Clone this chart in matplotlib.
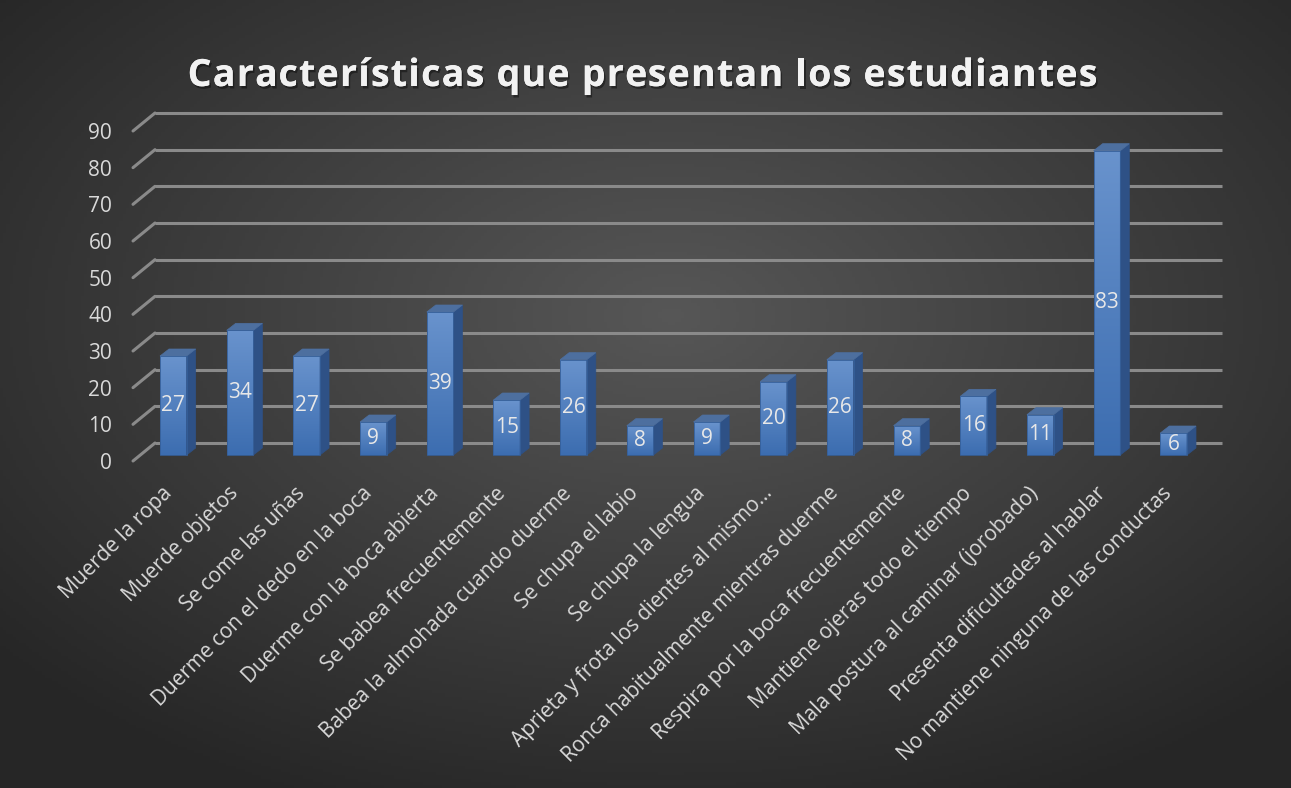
import numpy as np
import matplotlib
matplotlib.use("Agg")
import matplotlib.pyplot as plt
import matplotlib.patheffects as pe
from matplotlib.patches import Polygon, ConnectionPatch, Rectangle
from matplotlib.transforms import ScaledTranslation, IdentityTransform
from matplotlib.font_manager import FontProperties

plt.rcParams["font.family"] = ["Open Sans", "DejaVu Sans"]

TITLE = "Características que presentan los estudiantes"
categories = [
    "Muerde la ropa",
    "Muerde objetos",
    "Se come las uñas",
    "Duerme con el dedo en la boca",
    "Duerme con la boca abierta",
    "Se babea frecuentemente",
    "Babea la almohada cuando duerme",
    "Se chupa el labio",
    "Se chupa la lengua",
    "Aprieta y frota los dientes al mismo…",
    "Ronca habitualmente mientras duerme",
    "Respira por la boca frecuentemente",
    "Mantiene ojeras todo el tiempo",
    "Mala postura al caminar (jorobado)",
    "Presenta dificultades al hablar",
    "No mantiene ninguna de las conductas",
]
counts = [27, 34, 27, 9, 39, 15, 26, 8, 9, 20, 26, 8, 16, 11, 83, 6]
y_ticks = list(range(0, 100, 10))

W, H, DPI = 1291, 788, 100
fig = plt.figure(figsize=(W / DPI, H / DPI), dpi=DPI)

# dark radial background
bg = fig.add_axes([0, 0, 1, 1])
gx, gy = np.meshgrid(np.linspace(0, 1, 400), np.linspace(0, 1, 250))
r = np.sqrt(((gx - 0.52) / 0.75) ** 2 + ((gy - 0.6) / 0.75) ** 2)
shade = np.clip(0.34 - 0.21 * r, 0.15, 0.34)
bg.imshow(np.dstack([shade] * 3), extent=[0, 1, 0, 1], aspect="auto", origin="lower")
bg.set_axis_off()

# front plane of the plot area
ax = fig.add_axes([133 / W, 327 / H, (1200 - 133) / W, 330 / H])
ax.set_xlim(-0.5, len(categories) - 0.5)
ax.set_ylim(0, 90)
ax.patch.set_alpha(0)
for s in ax.spines.values():
    s.set_visible(False)


def shifted(dx, dy):
    return ax.transData + ScaledTranslation(dx / DPI, dy / DPI, fig.dpi_scale_trans)


DEPTH = (22, 18)
grid_col = "#8a8a8a"
back = shifted(*DEPTH)
for v in y_ticks:
    ax.plot([-0.5, len(categories) - 0.5], [v, v], color=grid_col, lw=2.2,
            transform=back, solid_capstyle="butt", zorder=1, clip_on=False)
    con = ConnectionPatch(xyA=(-0.5, v), coordsA=ax.transData,
                          xyB=(-0.5, v), coordsB=back, color=grid_col, lw=2.2)
    con.set_clip_on(False)
    ax.add_artist(con)

# bars: front face with gradient, side and top faces
bar_off = (7, 6)
bar_w = 0.4
side = (9, 7)
front_t = shifted(*bar_off)
grad = np.linspace(0, 1, 256)
top_rgb = np.array([0x69, 0x93, 0xcd]) / 255
bot_rgb = np.array([0x3c, 0x6d, 0xb0]) / 255
grad_img = (bot_rgb + (top_rgb - bot_rgb) * grad[:, None]).reshape(256, 1, 3)

for i, v in enumerate(counts):
    x0, x1 = i - bar_w / 2, i + bar_w / 2
    rect = Rectangle((x0, 0), bar_w, v, transform=front_t, facecolor="none",
                     edgecolor="#355f99", lw=0.6, zorder=4, clip_on=False)
    ax.add_patch(rect)
    im = ax.imshow(grad_img, extent=[x0, x1, 0, v], origin="lower", aspect="auto",
                   transform=front_t, zorder=3, interpolation="bilinear")
    im.set_clip_path(rect)

    fx0, fy0 = front_t.transform((x0, 0))
    fx1, fy1 = front_t.transform((x1, v))
    sx, sy = side
    side_pts = [(fx1, fy0), (fx1 + sx, fy0 + sy), (fx1 + sx, fy1 + sy), (fx1, fy1)]
    top_pts = [(fx0, fy1), (fx1, fy1), (fx1 + sx, fy1 + sy), (fx0 + sx, fy1 + sy)]
    ax.add_patch(Polygon(side_pts, closed=True, transform=IdentityTransform(),
                         facecolor="#2e5186", edgecolor="#2e5186", lw=0.5, zorder=3,
                         clip_on=False))
    ax.add_patch(Polygon(top_pts, closed=True, transform=IdentityTransform(),
                         facecolor="#4d6f9f", edgecolor="#4d6f9f", lw=0.5, zorder=3,
                         clip_on=False))

    ax.text(i, v / 2, str(v), transform=front_t, ha="center", va="center",
            fontsize=15, color="#e8e8e8", zorder=5)

ax.set_yticks(y_ticks)
ax.set_xticks(range(len(categories)))
ax.tick_params(length=0, colors="#d9d9d9", labelsize=15)
ax.tick_params(axis="y", pad=15)
ax.set_xticklabels(categories, rotation=45, ha="right", va="top",
                   rotation_mode="anchor", fontsize=15, color="#d9d9d9")
for lab in ax.get_xticklabels():
    lab.set_transform(lab.get_transform() + ScaledTranslation(-5 / DPI, -17 / DPI, fig.dpi_scale_trans))

# letter-spaced title
title_prop = FontProperties(family=["Open Sans", "DejaVu Sans"], weight="bold", size=27)
renderer = fig.canvas.get_renderer()
spacing = 1.3
widths = [renderer.get_text_width_height_descent(TITLE[:k], title_prop, ismath=False)[0]
          for k in range(len(TITLE) + 1)]
total = widths[-1] + spacing * (len(TITLE) - 1)
start = 0.5 * W - 3 - total / 2
shadow = [pe.withSimplePatchShadow(offset=(1.2, -1.8), shadow_rgbFace="black", alpha=0.4), pe.Normal()]
for k, ch in enumerate(TITLE):
    if ch == " ":
        continue
    fig.text((start + widths[k] + spacing * k) / W, 1 - 86 / H, ch, ha="left", va="baseline",
             fontproperties=title_prop, color="#f2f2f2", path_effects=shadow,
             transform=fig.transFigure)

fig.savefig("out.png", dpi=DPI)
